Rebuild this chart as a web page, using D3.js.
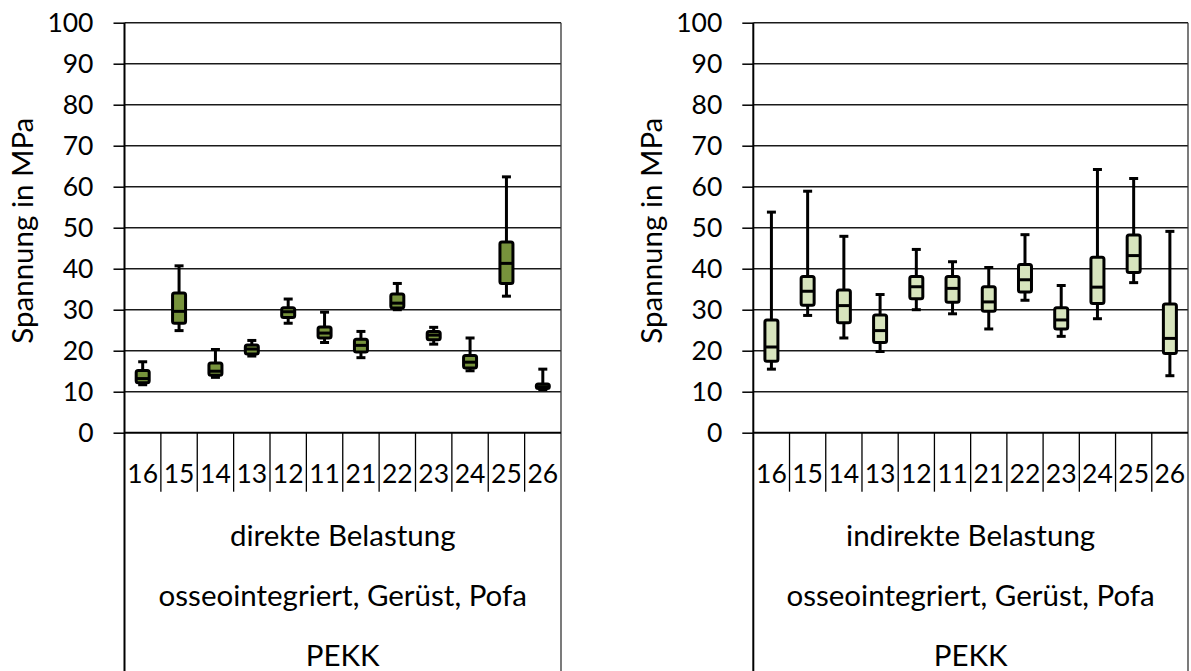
<!DOCTYPE html>
<html>
<head>
<meta charset="utf-8">
<script src="https://cdn.jsdelivr.net/npm/d3@7"></script>
<style>
  html, body { margin: 0; padding: 0; background: #fff; }
  svg { display: block; font-family: Lato, "Open Sans", sans-serif; }
</style>
</head>
<body>
<svg id="chart" width="1191" height="671"></svg>
<script>
// Tooth positions along the x axis
const categories = ["16", "15", "14", "13", "12", "11", "21", "22", "23", "24", "25", "26"];
const yTicks = [0, 10, 20, 30, 40, 50, 60, 70, 80, 90, 100];

// Direct loading: five-number summaries in MPa
const directMin    = [11.7, 24.9, 13.5, 18.7, 26.7, 22.0, 18.3, 30.0, 21.6, 15.1, 33.3, 10.5];
const directQ1     = [12.2, 26.7, 14.0, 19.2, 28.1, 23.1, 19.7, 30.4, 22.7, 15.8, 36.4, 10.8];
const directMedian = [13.2, 29.6, 15.0, 20.4, 29.5, 24.3, 21.3, 31.6, 23.8, 17.2, 41.3, 11.2];
const directQ3     = [15.2, 34.1, 17.0, 21.4, 30.5, 25.8, 22.8, 33.8, 24.7, 18.8, 46.5, 11.9];
const directMax    = [17.3, 40.7, 20.3, 22.5, 32.6, 29.4, 24.7, 36.4, 25.7, 23.1, 62.4, 15.5];

// Indirect loading: five-number summaries in MPa
const indirectMin    = [15.5, 28.6, 23.1, 19.8, 30.0, 29.0, 25.3, 32.3, 23.5, 27.8, 36.6, 13.9];
const indirectQ1     = [17.4, 31.1, 26.8, 22.0, 32.7, 31.8, 29.6, 34.3, 25.3, 31.5, 39.1, 19.3];
const indirectMedian = [20.9, 34.5, 31.0, 24.9, 35.6, 35.2, 31.9, 37.3, 27.5, 35.5, 43.2, 23.0];
const indirectQ3     = [27.5, 38.1, 34.8, 28.7, 38.1, 38.1, 35.6, 41.0, 30.5, 42.8, 48.2, 31.4];
const indirectMax    = [53.8, 58.9, 47.9, 33.7, 44.7, 41.7, 40.3, 48.3, 35.9, 64.2, 62.0, 49.1];

const yTitle = "Spannung in MPa";
const groupLine1Direct = "direkte Belastung";
const groupLine1Indirect = "indirekte Belastung";
const groupLine2 = "osseointegriert, Gerüst, Pofa";
const groupLine3 = "PEKK";

function zipBoxes(mn, q1, md, q3, mx) {
  return categories.map((c, i) => ({ cat: c, min: mn[i], q1: q1[i], median: md[i], q3: q3[i], max: mx[i] }));
}

const svg = d3.select("#chart");
const NUM_FONT = 26.5;   // tick and category numbers
const WORD_FONT = 29.5;  // axis title and group labels
const plotTop = 22.7, plotBottom = 432.7, tableBottom = 671;

function drawPanel(left, right, boxes, fill, line1) {
  const g = svg.append("g");
  const x = d3.scaleBand().domain(categories).range([left, right]).paddingInner(0).paddingOuter(0);
  const y = d3.scaleLinear().domain([0, 100]).range([plotBottom, plotTop]);

  // horizontal gridlines
  g.append("g").selectAll("line").data(yTicks.filter(t => t > 0)).join("line")
    .attr("x1", left).attr("x2", right)
    .attr("y1", d => y(d)).attr("y2", d => y(d))
    .attr("stroke", "#1a1a1a").attr("stroke-width", 1.5);

  // right border of plot and category table
  g.append("line").attr("x1", right).attr("x2", right)
    .attr("y1", plotTop).attr("y2", tableBottom)
    .attr("stroke", "#333").attr("stroke-width", 1.3);

  // y axis
  const yAxis = d3.axisLeft(y).tickValues(yTicks).tickSize(11).tickPadding(20).tickFormat(d3.format("d"));
  const ya = g.append("g").attr("transform", `translate(${left},0)`).call(yAxis);
  ya.select(".domain").remove();
  ya.selectAll(".tick line").attr("stroke", "#000").attr("stroke-width", 1.5);
  ya.selectAll(".tick text").attr("font-size", NUM_FONT).attr("font-family", "Lato, sans-serif").attr("fill", "#000");

  // axis lines (y axis continues down through the table)
  g.append("line").attr("x1", left).attr("x2", left).attr("y1", plotTop).attr("y2", tableBottom)
    .attr("stroke", "#000").attr("stroke-width", 2);
  g.append("line").attr("x1", left).attr("x2", right).attr("y1", plotBottom).attr("y2", plotBottom)
    .attr("stroke", "#000").attr("stroke-width", 2);

  // category separators
  g.append("g").selectAll("line").data(categories.slice(1)).join("line")
    .attr("x1", d => x(d)).attr("x2", d => x(d))
    .attr("y1", plotBottom).attr("y2", 491.7)
    .attr("stroke", "#000").attr("stroke-width", 1.3);

  // category labels
  g.append("g").selectAll("text").data(categories).join("text")
    .attr("x", d => x(d) + x.bandwidth() / 2)
    .attr("y", 483)
    .attr("text-anchor", "middle")
    .attr("font-size", NUM_FONT).attr("fill", "#000")
    .text(d => d);

  const cx = (left + right) / 2;
  [[line1, 546], [groupLine2, 606], [groupLine3, 666]].forEach(([t, yy]) => {
    g.append("text").attr("x", cx).attr("y", yy).attr("text-anchor", "middle")
      .attr("font-size", WORD_FONT).attr("fill", "#000").text(t);
  });

  // y axis title
  g.append("text")
    .attr("transform", `translate(${left - 103},${(plotTop + plotBottom) / 2 + 3}) rotate(-90)`)
    .attr("text-anchor", "middle").attr("dominant-baseline", "central")
    .attr("font-size", WORD_FONT).attr("fill", "#000").text(yTitle);

  // box plots
  const boxW = 13, capW = 9;
  const bg = g.append("g").selectAll("g").data(boxes).join("g")
    .attr("transform", d => `translate(${x(d.cat) + x.bandwidth() / 2},0)`);
  bg.append("line").attr("x1", 0).attr("x2", 0)
    .attr("y1", d => y(d.min)).attr("y2", d => y(d.max))
    .attr("stroke", "#000").attr("stroke-width", 3);
  bg.append("line").attr("x1", -capW / 2).attr("x2", capW / 2)
    .attr("y1", d => y(d.max)).attr("y2", d => y(d.max))
    .attr("stroke", "#000").attr("stroke-width", 3);
  bg.append("line").attr("x1", -capW / 2).attr("x2", capW / 2)
    .attr("y1", d => y(d.min)).attr("y2", d => y(d.min))
    .attr("stroke", "#000").attr("stroke-width", 3);
  bg.append("rect")
    .attr("x", -boxW / 2).attr("width", boxW)
    .attr("y", d => y(d.q3)).attr("height", d => y(d.q1) - y(d.q3))
    .attr("rx", 2).attr("fill", fill).attr("stroke", "#000").attr("stroke-width", 3);
  bg.append("line").attr("x1", -boxW / 2).attr("x2", boxW / 2)
    .attr("y1", d => y(d.median)).attr("y2", d => y(d.median))
    .attr("stroke", "#000").attr("stroke-width", 3);
}

drawPanel(124.5, 561, zipBoxes(directMin, directQ1, directMedian, directQ3, directMax), "#77933C", groupLine1Direct);
drawPanel(753.3, 1188, zipBoxes(indirectMin, indirectQ1, indirectMedian, indirectQ3, indirectMax), "#D7E4BD", groupLine1Indirect);
</script>
</body>
</html>
